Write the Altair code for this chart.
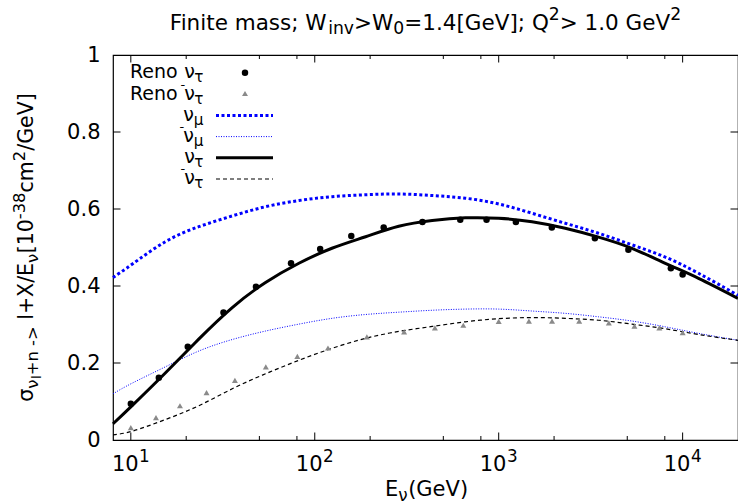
import altair as alt
import pandas as pd

# ---------------- data ----------------
# Reno points, nu_tau (black dots)
reno_nutau_E = [10, 14.2, 20.4, 31.9, 47.9, 74.3, 107, 158, 237, 385, 618, 859,
                1240, 1945, 3334, 5070, 8630, 10000]
reno_nutau_sigma = [0.094, 0.162, 0.242, 0.331, 0.398, 0.459, 0.496, 0.530, 0.552,
                    0.566, 0.572, 0.572, 0.566, 0.552, 0.524, 0.494, 0.446, 0.430]

# Reno points, anti nu_tau (grey triangles)
reno_nutaubar_E = [10.0, 13.7, 18.5, 25.8, 36.8, 54.2, 80.4, 118, 192, 306, 450, 642,
                   1000, 1460, 1950, 2740, 3970, 5470, 7470, 10000]
reno_nutaubar_sigma = [0.032, 0.058, 0.089, 0.123, 0.155, 0.190, 0.217, 0.239, 0.268,
                       0.281, 0.291, 0.298, 0.308, 0.309, 0.309, 0.309, 0.304, 0.296,
                       0.291, 0.279]

# Model curves, sampled on a common energy grid
curve_E = [8, 10.2, 15.4, 23.4, 35.6, 54, 82, 124, 189, 286, 435, 659, 1000, 1517,
           2300, 3490, 5300, 8050, 12200, 20000]
sigma_numu = [0.422, 0.457, 0.515, 0.554, 0.582, 0.606, 0.622, 0.632, 0.637, 0.639,
              0.635, 0.628, 0.613, 0.589, 0.563, 0.537, 0.507, 0.475, 0.433, 0.376]
sigma_numubar = [0.120, 0.148, 0.190, 0.231, 0.261, 0.283, 0.301, 0.316, 0.326, 0.332,
                 0.337, 0.340, 0.340, 0.335, 0.329, 0.320, 0.309, 0.294, 0.277, 0.259]
sigma_nutau = [0.042, 0.090, 0.174, 0.262, 0.344, 0.409, 0.459, 0.498, 0.528, 0.555,
               0.570, 0.577, 0.576, 0.567, 0.550, 0.527, 0.498, 0.459, 0.420, 0.368]
sigma_nutaubar = [0.0135, 0.023, 0.053, 0.089, 0.133, 0.172, 0.207, 0.238, 0.264,
                  0.282, 0.295, 0.307, 0.315, 0.318, 0.316, 0.311, 0.301, 0.289,
                  0.274, 0.259]

# axis ticks
x_major = [10, 100, 1000, 10000]
x_major_exp = ["1", "2", "3", "4"]
x_minor = [20, 50, 80, 200, 500, 800, 2000, 5000, 8000]
y_values = [0, 0.2, 0.4, 0.6, 0.8, 1.0]
y_inner = [0.2, 0.4, 0.6, 0.8]

# ---------------- layout ----------------
FONT = "DejaVu Sans"
PLOT_W, PLOT_H = 625, 385
PAD_L, PAD_T = 113, 55
BLUE = "#0000ff"

# approximate DejaVu Sans advance widths (em) used to chain rich-text pieces
EM = {
    " ": 0.318, "(": 0.390, ")": 0.390, "+": 0.838, "-": 0.361, ".": 0.318,
    "/": 0.337, ";": 0.337, "=": 0.838, ">": 0.838, "[": 0.390, "]": 0.390,
    "E": 0.632, "F": 0.575, "G": 0.775, "Q": 0.787, "R": 0.695, "V": 0.684,
    "W": 0.989, "X": 0.685, "a": 0.613, "c": 0.550, "e": 0.615, "i": 0.278,
    "l": 0.278, "m": 0.974, "n": 0.634, "o": 0.612, "s": 0.521, "t": 0.392,
    "v": 0.592, "ν": 0.592, "τ": 0.560, "μ": 0.636, "σ": 0.634,
}
for d in "0123456789":
    EM[d] = 0.636


def text_w(s, size):
    return sum(EM.get(c, 0.6) for c in s) * size


ONE = pd.DataFrame({"k": [0]})


def txt(s, x, y, size, align="left", angle=0, color="black"):
    """Text piece placed in page pixels (converted to plot-group pixels)."""
    return alt.Chart(ONE).mark_text(
        text=s, font=FONT, fontSize=size, align=align, baseline="alphabetic",
        angle=angle, color=color,
    ).encode(x=alt.value(x - PAD_L), y=alt.value(y - PAD_T))


def run_width(pieces, size):
    return sum(text_w(s, size[k]) for s, k in pieces)


def hrun(pieces, x0, base, size, shift):
    out, x = [], x0
    for s, k in pieces:
        lead = len(s) - len(s.lstrip(" "))
        out.append(txt(s.lstrip(" "), x + text_w(" " * lead, size[k]),
                       base + shift[k], size[k]))
        x += text_w(s, size[k])
    return out


def vrun(pieces, y0, basex, size, shift):
    out, y = [], y0
    for s, k in pieces:
        lead = len(s) - len(s.lstrip(" "))
        out.append(txt(s.lstrip(" "), basex + shift[k],
                       y - text_w(" " * lead, size[k]), size[k], angle=270))
        y -= text_w(s, size[k])
    return out


# ---------------- scales / encodings ----------------
xscale = alt.Scale(type="log", domain=[8, 20000], nice=False)
yscale = alt.Scale(domain=[0, 1], nice=False)
yaxis = alt.Axis(values=y_values, format="~g", ticks=False, tickSize=0, domain=False,
                 grid=False, labelFont=FONT, labelFontSize=21, labelColor="black",
                 labelPadding=13, title=None)


def curve_layer(values, **style):
    df = pd.DataFrame({"E": curve_E, "sigma": values})
    return alt.Chart(df).mark_line(interpolate="natural", **style).encode(
        x=alt.X("E:Q", scale=xscale, axis=None),
        y=alt.Y("sigma:Q", scale=yscale, axis=yaxis),
    )


layers = []

# model curves
layers.append(curve_layer(sigma_numu, color=BLUE, strokeWidth=3, strokeDash=[3, 2.5]))
layers.append(curve_layer(sigma_numubar, color=BLUE, strokeWidth=1, strokeDash=[1, 1.5]))
layers.append(curve_layer(sigma_nutau, color="black", strokeWidth=3))
layers.append(curve_layer(sigma_nutaubar, color="black", strokeWidth=1.2, strokeDash=[4, 3]))

# Reno points
dots = pd.DataFrame({"E": reno_nutau_E, "sigma": reno_nutau_sigma})
tris = pd.DataFrame({"E": reno_nutaubar_E, "sigma": reno_nutaubar_sigma})
layers.append(alt.Chart(dots).mark_point(shape="circle", filled=True, color="black",
                                         size=42, opacity=1).encode(
    x=alt.X("E:Q", scale=xscale, axis=None),
    y=alt.Y("sigma:Q", scale=yscale, axis=yaxis)))
layers.append(alt.Chart(tris).mark_point(shape="triangle-up", filled=True, color="#8a8a8a",
                                         size=36, opacity=1).encode(
    x=alt.X("E:Q", scale=xscale, axis=None),
    y=alt.Y("sigma:Q", scale=yscale, axis=yaxis)))

# inward ticks on all four sides
xmaj_df = pd.DataFrame({"t": x_major, "sup": x_major_exp})
xmin_df = pd.DataFrame({"t": x_minor})
yin_df = pd.DataFrame({"t": y_inner})
for df, ln in ((xmaj_df, 7.5), (xmin_df, 4)):
    for y0, y1 in ((PLOT_H, PLOT_H - ln), (0, ln)):
        layers.append(alt.Chart(df).mark_rule(color="black", strokeWidth=1).encode(
            x=alt.X("t:Q", scale=xscale, axis=None),
            y=alt.value(y0), y2=alt.value(y1)))
for x0, x1 in ((0, 7.5), (PLOT_W - 7.5, PLOT_W)):
    layers.append(alt.Chart(yin_df).mark_rule(color="black", strokeWidth=1).encode(
        y=alt.Y("t:Q", scale=yscale, axis=yaxis),
        x=alt.value(x0), x2=alt.value(x1)))

# x tick labels: 10 with a raised exponent
TL, TS = 21, 16.8
w10, wsup = text_w("10", TL), text_w("4", TS)
left_off = -(w10 + wsup + 0.5) / 2
layers.append(alt.Chart(xmaj_df).mark_text(
    text="10", font=FONT, fontSize=TL, align="left", baseline="alphabetic",
    dx=left_off, color="black").encode(
    x=alt.X("t:Q", scale=xscale, axis=None), y=alt.value(470.7 - PAD_T)))
layers.append(alt.Chart(xmaj_df).mark_text(
    font=FONT, fontSize=TS, align="left", baseline="alphabetic",
    dx=left_off + w10 + 0.5, color="black").encode(
    x=alt.X("t:Q", scale=xscale, axis=None), y=alt.value(461.7 - PAD_T),
    text="sup:N"))

# title
tsize = {"m": 21.5, "sub": 17.2, "sup": 17.2}
tshift = {"m": 0, "sub": 4.5, "sup": -10}
title_pieces = [("Finite mass; W", "m"), ("inv", "sub"), (">W", "m"), ("0", "sub"),
                ("=1.4[GeV]; Q", "m"), ("2", "sup"), ("> 1.0 GeV", "m"), ("2", "sup")]
tw_total = run_width(title_pieces, tsize)
layers += hrun(title_pieces, PAD_L + PLOT_W / 2 - tw_total / 2, 29.5, tsize, tshift)

# x-axis title
xsize = {"m": 21, "sub": 16.8}
xt_pieces = [("E", "m"), ("ν", "sub"), ("(GeV)", "m")]
xw = run_width(xt_pieces, xsize)
layers += hrun(xt_pieces, PAD_L + PLOT_W / 2 + 1 - xw / 2, 496, xsize, tshift)

# y-axis title (rotated)
ysize = {"m": 20.5, "sub": 16.4, "ss": 13, "sup": 16.4}
yshift = {"m": 0, "sub": 4.5, "ss": 8, "sup": -8}
yt_pieces = [("σ", "m"), ("ν", "sub"), ("l", "ss"), ("+n ->", "sub"), (" l+X/E", "m"),
             ("ν", "sub"), ("[10", "m"), ("-38", "sup"), ("cm", "m"), ("2", "sup"),
             ("/GeV]", "m")]
yw = run_width(yt_pieces, ysize)
layers += vrun(yt_pieces, PAD_T + PLOT_H / 2 + yw / 2, 33, ysize, yshift)

# key (top left)
LM, LS, LD = 19, 15.2, 13
RIGHT = 203.5
rows = [78.3, 99.5, 120.7, 141.9, 163.1, 184.3]
SAMPLE_X0, SAMPLE_X1, MARK_X = 216, 273, 245


def key_label(base, sub, bar, prefix=None):
    out = []
    nu_right = RIGHT - text_w(sub, LS)
    nu_left = nu_right - text_w("ν", LM)
    out.append(txt(sub, RIGHT, base + 4, LS, align="right"))
    out.append(txt("ν", nu_right, base, LM, align="right"))
    if bar:
        out.append(txt("-", nu_left + 1.5, base - 11, LD, align="right"))
    if prefix:
        out.append(txt(prefix, nu_left - text_w(" ", LM), base, LM, align="right"))
    return out


layers += key_label(rows[0], "τ", False, "Reno")
layers += key_label(rows[1], "τ", True, "Reno")
layers += key_label(rows[2], "μ", False)
layers += key_label(rows[3], "μ", True)
layers += key_label(rows[4], "τ", False)
layers += key_label(rows[5], "τ", True)

layers.append(alt.Chart(ONE).mark_point(shape="circle", filled=True, color="black",
                                        size=42, opacity=1).encode(
    x=alt.value(MARK_X - PAD_L), y=alt.value(rows[0] - 5.6 - PAD_T)))
layers.append(alt.Chart(ONE).mark_point(shape="triangle-up", filled=True, color="#8a8a8a",
                                        size=36, opacity=1).encode(
    x=alt.value(MARK_X - PAD_L), y=alt.value(rows[1] - 6 - PAD_T)))

samples = [
    (rows[2], dict(color=BLUE, strokeWidth=3, strokeDash=[3, 2.5])),
    (rows[3], dict(color=BLUE, strokeWidth=1, strokeDash=[1, 1.5])),
    (rows[4], dict(color="black", strokeWidth=3)),
    (rows[5], dict(color="black", strokeWidth=1.2, strokeDash=[4, 3])),
]
for base, style in samples:
    layers.append(alt.Chart(ONE).mark_rule(**style).encode(
        x=alt.value(SAMPLE_X0 - PAD_L), x2=alt.value(SAMPLE_X1 - PAD_L),
        y=alt.value(base - 5.3 - PAD_T)))

chart = alt.layer(*layers).properties(
    width=PLOT_W, height=PLOT_H,
    padding={"left": PAD_L, "top": PAD_T, "right": 0, "bottom": 504 - PAD_T - PLOT_H},
    autosize="none", background="white",
).configure_view(stroke="black", strokeWidth=1.2)

chart.save("out.html", embed_options={"renderer": "svg", "actions": False})
